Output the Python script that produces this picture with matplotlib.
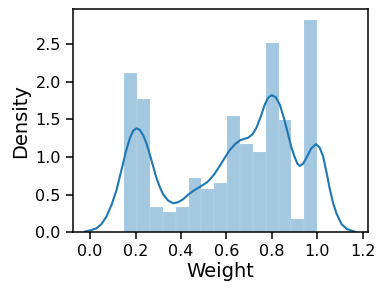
import matplotlib
matplotlib.use("Agg")
import matplotlib.pyplot as plt

bin_edges = [0.15 + i * (0.85 / 15) for i in range(16)]
bar_heights = [2.11, 1.77, 0.34, 0.27, 0.33, 0.72, 0.57, 0.65, 1.54, 1.17,
               1.07, 2.51, 1.49, 0.17, 2.82]

kde_x = [-0.023, 0.0, 0.028, 0.05, 0.072, 0.095, 0.116, 0.13, 0.145, 0.16, 0.175,
         0.19, 0.204, 0.218, 0.233, 0.248, 0.263, 0.278, 0.292, 0.307, 0.322,
         0.344, 0.366, 0.388, 0.41, 0.432, 0.454, 0.476, 0.498, 0.513, 0.527,
         0.549, 0.571, 0.593, 0.615, 0.638, 0.66, 0.678, 0.696, 0.715, 0.733,
         0.752, 0.77, 0.785, 0.80, 0.818, 0.836, 0.854, 0.872, 0.887, 0.902,
         0.913, 0.924, 0.938, 0.953, 0.973, 0.994, 1.01, 1.026, 1.041, 1.056,
         1.07, 1.085, 1.107, 1.13, 1.166]
kde_y = [0.01, 0.025, 0.053, 0.11, 0.21, 0.37, 0.56, 0.73, 0.915, 1.10, 1.25,
         1.35, 1.38, 1.36, 1.29, 1.18, 1.03, 0.87, 0.72, 0.60, 0.50,
         0.42, 0.385, 0.40, 0.44, 0.50, 0.55, 0.59, 0.63, 0.66, 0.70,
         0.78, 0.88, 0.99, 1.09, 1.17, 1.22, 1.24, 1.255, 1.30, 1.39,
         1.54, 1.70, 1.79, 1.82, 1.79, 1.69, 1.51, 1.30, 1.12, 0.99,
         0.91, 0.88, 0.91, 0.99, 1.11, 1.17, 1.13, 1.01, 0.80, 0.57,
         0.39, 0.25, 0.11, 0.045, 0.008]

x_ticks = [0.0, 0.2, 0.4, 0.6, 0.8, 1.0, 1.2]
y_ticks = [0.0, 0.5, 1.0, 1.5, 2.0, 2.5]

fig = plt.figure(figsize=(3.86, 2.95), dpi=100)
ax = fig.add_axes([0.188, 0.2125, 0.766, 0.7555])

blue = "#1f77b4"
lefts = bin_edges[:-1]
widths = [bin_edges[i + 1] - bin_edges[i] for i in range(15)]
ax.bar(lefts, bar_heights, width=widths, align="edge", color=blue, alpha=0.4,
       edgecolor="white", linewidth=0.15)
ax.plot(kde_x, kde_y, color=blue, lw=1.5, solid_joinstyle="round")

ax.set_xlim(-0.0775, 1.225)
ax.set_ylim(0, 2.957)
ax.set_xticks(x_ticks)
ax.set_xticklabels([f"{v:.1f}" for v in x_ticks])
ax.set_yticks(y_ticks)
ax.set_yticklabels([f"{v:.1f}" for v in y_ticks])
ax.tick_params(labelsize=11.5, length=5, width=1.1)
for s in ax.spines.values():
    s.set_linewidth(1.1)
ax.set_xlabel("Weight", fontsize=14, labelpad=2)
ax.set_ylabel("Density", fontsize=14, labelpad=4)

fig.savefig("out.png", dpi=100)
